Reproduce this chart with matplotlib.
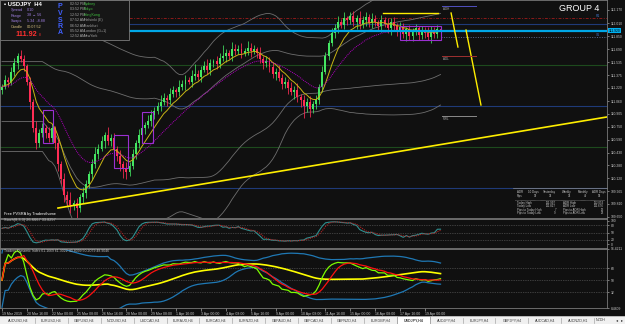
import numpy as np
import pandas as pd
import matplotlib
matplotlib.use("Agg")
import matplotlib.pyplot as plt
from matplotlib.patches import Rectangle

plt.rcParams['font.family'] = ['Liberation Sans', 'DejaVu Sans']

W, H = 625, 324
BG = '#101010'

# USDJPY H4 closes (bar 0 = 19 Mar 2019)
closes = [111.233, 111.320, 111.295, 111.420, 111.520, 111.608, 111.570,
          111.483, 111.295, 111.045, 110.733, 110.545, 110.670, 110.733,
          110.670, 110.608, 110.733, 110.545, 110.295, 110.108, 109.920,
          109.858, 109.795, 109.820, 109.758, 109.895, 109.945, 110.045,
          110.170, 110.295, 110.420, 110.483, 110.570, 110.645, 110.570,
          110.608, 110.483, 110.395, 110.295, 110.233, 110.195, 110.270,
          110.420, 110.545, 110.645, 110.733, 110.770, 110.820, 110.895,
          110.945, 110.995, 111.045, 111.095, 111.070, 111.145, 111.195,
          111.170, 111.233, 111.270, 111.320, 111.295, 111.370, 111.395,
          111.358, 111.445, 111.483, 111.445, 111.520, 111.545, 111.508,
          111.583, 111.608, 111.645, 111.608, 111.695, 111.670, 111.695,
          111.645, 111.670, 111.708, 111.670, 111.695, 111.645, 111.570,
          111.520, 111.545, 111.470, 111.395, 111.420, 111.345, 111.270,
          111.295, 111.220, 111.170, 111.195, 111.108, 111.070, 110.995,
          111.045, 110.970, 111.020, 111.070, 111.233, 111.420, 111.608,
          111.770, 111.895, 111.945, 112.020, 111.983, 112.070, 112.045,
          112.095, 112.020, 112.070, 111.995, 112.045, 112.083, 112.008,
          112.058, 112.020, 111.970, 112.045, 111.995, 111.945, 112.020,
          111.970, 111.920, 111.958, 111.883, 111.933, 111.858, 111.908,
          111.945, 111.870, 111.920, 111.895, 111.845, 111.920, 111.883,
          111.933, 111.920]
first_open = 111.200
# wicks in pips
wick_up = [4, 6, 3, 5, 7, 4, 8, 5, 3, 6, 4, 9, 5, 6, 4, 7, 5, 3, 6, 4, 8,
           5, 9, 4, 6, 3, 7, 5, 4, 6, 8, 5, 7, 4, 10, 5, 6, 3, 7, 4, 9, 5,
           6, 4, 8, 5, 3, 7, 6, 4, 5, 9, 6, 4, 7, 5, 3, 8, 5, 6, 4, 7, 12,
           5, 4, 6, 9, 5, 3, 7, 6, 14, 5, 4, 8, 6, 5, 7, 4, 9, 6, 5, 3, 8,
           4, 6, 5, 7, 4, 8, 5, 6, 3, 7, 5, 9, 4, 6, 5, 8, 4, 6, 3, 7, 5,
           4, 6, 5, 8, 4, 7, 3, 5, 6, 4, 9, 5, 6, 4, 7, 5, 3, 6, 4, 8, 5,
           6, 4, 7, 5, 3, 6, 4, 5, 3, 6, 4, 7, 5, 4, 6, 3]
wick_dn = [5, 3, 6, 4, 5, 7, 3, 6, 4, 8, 5, 7, 4, 5, 6, 5, 4, 7, 8, 6, 9,
           7, 10, 6, 12, 5, 8, 6, 4, 7, 5, 6, 3, 8, 5, 6, 4, 7, 9, 11, 8, 5,
           4, 6, 5, 3, 7, 4, 6, 5, 4, 6, 3, 7, 5, 4, 6, 5, 4, 7, 3, 6, 5,
           4, 6, 3, 5, 7, 4, 6, 5, 4, 7, 3, 6, 5, 4, 6, 3, 5, 7, 4, 6, 5,
           7, 4, 6, 5, 8, 4, 6, 5, 7, 4, 9, 6, 8, 14, 7, 10, 6, 5, 4, 6, 3,
           5, 4, 7, 6, 3, 5, 6, 4, 5, 8, 6, 4, 7, 5, 6, 4, 5, 7, 3, 6, 8,
           5, 7, 4, 6, 9, 5, 6, 4, 6, 5, 7, 4, 8, 5, 6, 4]

price_ticks = [112.170, 112.010, 111.850, 111.690, 111.535, 111.375, 111.220,
               111.060, 110.905, 110.750, 110.590, 110.430, 110.280, 110.120,
               109.965, 109.810, 109.650]
last_price = 111.920
whole_levels = [112.00, 111.00, 110.00]
half_levels = [111.50, 110.50]

date_ticks = list(range(0, 137, 8))
date_labels = ["19 Mar 2019", "20 Mar 16:00", "22 Mar 00:00", "25 Mar 08:00",
               "26 Mar 16:00", "28 Mar 00:00", "29 Mar 08:00", "1 Apr 16:00",
               "3 Apr 00:00", "4 Apr 08:00", "5 Apr 16:00", "9 Apr 00:00",
               "10 Apr 08:00", "11 Apr 16:00", "15 Apr 00:00", "16 Apr 08:00",
               "17 Apr 16:00", "19 Apr 00:00"]

# PVSRA boxes (bar from, bar to, top, bottom)
box_from = [13.2, 36.0, 45.0, 128.0]
box_to = [16.4, 40.5, 48.5, 141.0]
box_top = [110.952, 110.647, 110.928, 111.975]
box_bot = [110.550, 110.245, 110.550, 111.805]

tabs = ["AUDUSD,H4", "EURUSD,H4", "GBPUSD,H4", "NZDUSD,H4", "USDCAD,H4",
        "EURAUD,H4", "EURCAD,H4", "EURNZD,H4", "GBPAUD,H4", "GBPCAD,H4",
        "GBPNZD,H4", "EURGBP,H4", "USDJPY,H4", "AUDJPY,H4", "EURJPY,H4",
        "GBPJPY,H4", "AUDCAD,H4", "AUDNZD,H1"]
active_tab = "USDJPY,H4"

sessions = [("02:52 PM", "Sydney"), ("03:52 PM", "Tokyo"), ("12:52 PM", "HongKong"),
            ("07:52 AM", "Helsinki (E)"), ("06:52 AM", "Frankfurt"),
            ("05:52 AM", "London (G+1)"), ("12:52 AM", "NewYork")]

# ---- derived series ----
c = pd.Series(closes)
o = pd.Series([first_open] + closes[:-1])
hi = pd.concat([o, c], axis=1).max(axis=1) + pd.Series(wick_up) / 100
lo = pd.concat([o, c], axis=1).min(axis=1) - pd.Series(wick_dn) / 100
idx = np.arange(len(c))

ema_fast = c.ewm(span=8, adjust=False).mean()
ema_slow = c.ewm(span=21, adjust=False).mean()
bb_mid = c.rolling(50, min_periods=14).mean().bfill()
bb_sd = c.rolling(50, min_periods=14).std().bfill()
bands = [bb_mid + k * bb_sd for k in (-2, -1, 1, 2)]

hh = hi.rolling(8, min_periods=1).max()
ll = lo.rolling(8, min_periods=1).min()
st_k = 100 * (c - ll).rolling(3, min_periods=1).sum() / (hh - ll).rolling(3, min_periods=1).sum()
st_d = st_k.rolling(3, min_periods=1).mean()

delta = c.diff().fillna(0)
gain = delta.clip(lower=0).ewm(alpha=1 / 13, adjust=False).mean()
loss = (-delta.clip(upper=0)).ewm(alpha=1 / 13, adjust=False).mean()
rsi = (100 - 100 / (1 + gain / loss)).fillna(50)
tdi_green = rsi.rolling(2, min_periods=1).mean()
tdi_red = rsi.rolling(7, min_periods=1).mean()
tdi_mid = rsi.rolling(34, min_periods=1).mean()
tdi_sd = rsi.rolling(34, min_periods=3).std().bfill()
tdi_up = tdi_mid + 1.6185 * tdi_sd
tdi_lo = tdi_mid - 1.6185 * tdi_sd


def box(x0, y0, x1, y1):
    return [x0 / W, 1 - y1 / H, (x1 - x0) / W, (y1 - y0) / H]


fig = plt.figure(figsize=(W / 100, H / 100), dpi=100, facecolor=BG)
ax = fig.add_axes(box(0, 0, 607, 218))
ax_st = fig.add_axes(box(0, 219, 607, 248))
ax_tdi = fig.add_axes(box(0, 249, 607, 308))

XL = (-0.643, 194.53)
for a in (ax, ax_st, ax_tdi):
    a.set_facecolor(BG)
    a.set_xlim(*XL)
    for sp in a.spines.values():
        sp.set_color('#7a7a7a')
        sp.set_linewidth(0.6)
    a.yaxis.tick_right()
    a.tick_params(axis='y', colors='#c8c8c8', labelsize=2.4, length=1.5, width=0.4, pad=1)
    a.tick_params(axis='x', colors='#c8c8c8', labelsize=2.5, length=2, width=0.4, pad=1.2)

# ---- main price panel ----
ax.set_ylim(109.6365, 112.2918)
for lv in whole_levels:
    ax.axhline(lv, color='#1f3a78', lw=0.8, zorder=1)
for lv in half_levels:
    ax.axhline(lv, color='#1d4a1d', lw=0.8, zorder=1)
ax.axhline(112.073, color='#8b1a1a', lw=0.7, dashes=(3, 1.5, 1, 1.5), zorder=1)
ax.plot([141, XL[1]], [111.841, 111.841], color='#5a6a8a', lw=0.7, ls=(0, (1, 1.5)), zorder=1)

for band in bands:
    ax.plot(idx, band, color='#6e6e6e', lw=0.6, zorder=2)

for i in idx:
    col = '#44e662' if c[i] >= o[i] else '#ff2d55'
    ax.vlines(i, lo[i], hi[i], color=col, lw=0.55, zorder=3)
    body = max(abs(c[i] - o[i]), 0.006)
    ax.bar(i, body, bottom=min(o[i], c[i]), width=0.62, color=col, lw=0, zorder=3)

ax.plot(idx, ema_fast, color='#c8b414', lw=0.7, zorder=4)
ax.plot(idx, ema_slow, color='#b000c0', lw=0.7, ls=(0, (1, 1)), zorder=4)
for b0, b1, bt, bb_ in zip(box_from, box_to, box_top, box_bot):
    ax.add_patch(Rectangle((b0, bb_), b1 - b0, bt - bb_, fill=False, ec='#9a30d0', lw=0.8, zorder=4))

ax.axhline(111.914, color='#00a8e8', lw=1.6, zorder=5)

# yellow drawings
ax.plot([18.0, 194.5], [109.758, 110.867], color='#ffee00', lw=1.2, zorder=6)
ax.plot([122.5, 140.2], [112.133, 112.133], color='#ffee00', lw=1.0, zorder=6)
ax.plot([144.4, 146.6], [112.133, 111.719], color='#ffee00', lw=1.0, zorder=6)
ax.plot([149.2, 154.0], [111.926, 111.013], color='#ffee00', lw=1.0, zorder=6)

for name, lv, col in [("ADH", 112.219, '#5050c0'), ("ADL", 111.610, '#a03030'), ("PWL", 110.879, '#8a8a8a')]:
    ax.plot([141.5, 152.4], [lv, lv], color=col, lw=0.7, zorder=6)
    ax.text(141.8, lv - 0.012, name, color='#a8a8a8', fontsize=2.2, va='top', ha='left', zorder=6)
ax.text(192.3, 112.097, "R1", color='#4070c0', fontsize=2.4, ha='right', va='center', zorder=6)
ax.text(192.3, 111.865, "S1", color='#4070c0', fontsize=2.4, ha='right', va='center', zorder=6)
ax.text(192.2, 112.188, "GROUP 4", color='white', fontsize=6.5, ha='right', va='center', zorder=7)

ax.set_yticks(price_ticks)
ax.set_yticklabels([f"{p:.3f}" for p in price_ticks])
ax.set_xticks(date_ticks)
ax.tick_params(axis='x', labelbottom=False, length=0)
ax.annotate(f"{last_price:.3f}", xy=(1.0, last_price), xycoords=('axes fraction', 'data'),
            xytext=(1.2, 0), textcoords='offset points', va='center', ha='left',
            fontsize=2.4, color='black', annotation_clip=False, zorder=8,
            bbox=dict(boxstyle='square,pad=0.25', fc='#00b0f0', ec='none'))
ax.text(0.5, 109.69, "Free PVSRA by Tradersthome", color='white', fontsize=2.8, va='center', zorder=7)

# ---- stochastic ----
ax_st.set_ylim(-15, 107)
for lv in (80, 50, 20):
    ax_st.axhline(lv, color='#6a6a6a', lw=0.5, ls=(0, (1, 1.5)))
ax_st.plot(idx, st_k, color='#2f8f8f', lw=0.8)
ax_st.plot(idx, st_d, color='#b22222', lw=0.8, ls=(0, (1, 1)))
ax_st.set_yticks([100, 80, 50, 20, 0])
ax_st.set_xticks(date_ticks)
ax_st.tick_params(axis='x', labelbottom=False, length=0)
ax_st.text(0.5, 102, "Stoch(8,3,3) 26.6667 33.8297", color='#c0c0c0', fontsize=2.8, va='center')

# ---- TDI ----
ax_tdi.set_ylim(8.4809, 96.4211)
for lv in (68, 50, 32):
    ax_tdi.axhline(lv, color='#6a6a6a', lw=0.5, ls=(0, (1, 1.5)))
ax_tdi.plot(idx, tdi_up, color='#1f78b4', lw=0.9)
ax_tdi.plot(idx, tdi_lo, color='#1f78b4', lw=0.9)
ax_tdi.plot(idx, tdi_mid, color='#ffff00', lw=1.2)
ax_tdi.plot(idx, tdi_green, color='#7cfc00', lw=0.9)
ax_tdi.plot(idx, tdi_red, color='#ff1010', lw=0.9)
ax_tdi.set_yticks([96.4211, 68, 50, 32, 8.4809])
ax_tdi.set_yticklabels(["96.4211", "68", "50", "32", "8.4809"])
ax_tdi.set_xticks(date_ticks)
ax_tdi.set_xticklabels(date_labels)
for lbl in ax_tdi.get_xticklabels():
    lbl.set_ha('left')
ax_tdi.text(0.5, 93.5, "Traders Dynamic Index 61.1669 61.3022 40.8099 50.2079 48.9046",
            color='#c0c0c0', fontsize=2.5, va='center')

# ---- overlay: info panel, ADR table, tab bar ----
ov = fig.add_axes([0, 0, 1, 1])
ov.set_xlim(0, W)
ov.set_ylim(H, 0)
ov.axis('off')
ov.patch.set_alpha(0)

ov.add_patch(Rectangle((0, 0), 129, 40, fc='#161616', ec='#7a7a7a', lw=0.6))
ov.text(4, 4.2, "\u25aa USDJPY  H4", color='white', fontsize=4.2, fontweight='bold', va='center')
info_rows = [("Spread", "0.10", '#9f7fe0'), ("Range", "38 \u2192 56", '#9f7fe0'),
             ("Swaps", "5.34  -8.88", '#9f7fe0'), ("Candle", "00:07:52", '#d8c080')]
for k, (lab, val, col) in enumerate(info_rows):
    yy = 9.8 + k * 5.7
    ov.text(11, yy, lab, color=col, fontsize=2.7, va='center')
    ov.text(27, yy, val, color=col, fontsize=2.7, va='center')
ov.text(15, 35, "111.92", color='#ff3030', fontsize=5.2, fontweight='bold', va='center')
ov.text(38.5, 35.5, "8", color='#ff3030', fontsize=2.4, va='center')
for k, ch in enumerate("PVSRA"):
    ov.text(60, 7 + k * 6.5, ch, color='#4060ff', fontsize=5, fontweight='bold', va='center', ha='center')
for k, (t, city) in enumerate(sessions):
    yy = 4 + k * 5.4
    ov.text(70, yy, t, color='#a8a8a8', fontsize=2.6, va='center')
    ov.text(84, yy, city, color='#40c040' if k < 3 else '#a0a0a0', fontsize=2.6, va='center')

# ADR table
ov.plot([513, 607], [188, 188], color='#8a8a8a', lw=0.5)
head = ["ADR", "10 Days", "Yesterday", "Weekly", "Monthly", "ADR Days"]
pips = ["Pips", "39", "33", "33", "49", "53"]
hx = [517, 528, 543, 562, 578, 592]
for x_, h_, p_ in zip(hx, head, pips):
    ov.text(x_, 191.7, h_, color='#c8c8c8', fontsize=2.1, va='center')
    ov.text(x_ + (0 if p_ == "Pips" else 6), 195.7, p_, color='#c8c8c8', fontsize=2.1, va='center')
ov.plot([515, 605], [200, 200], color='#bbbbbb', lw=0.4, ls=(0, (1, 1)))
table = [("Today High", "111.997", "ADR High", "112.053"),
         ("Today Low", "111.827", "ADR Low", "111.676"),
         ("Pips to Today High", "7", "Pips to ADR High", "13"),
         ("Pips to Today Low", "9", "Pips to ADR Low", "25")]
for k, (a1, v1, a2, v2) in enumerate(table):
    yy = 203 + k * 3.4
    ov.text(517, yy, a1, color='#c8c8c8', fontsize=2.1, va='center')
    ov.text(556, yy, v1, color='#c8c8c8', fontsize=2.1, va='center', ha='right')
    ov.text(563, yy, a2, color='#c8c8c8', fontsize=2.1, va='center')
    ov.text(604, yy, v2, color='#c8c8c8', fontsize=2.1, va='center', ha='right')

# tab bar
ov.add_patch(Rectangle((0, 316), W, 8, fc='#f0f0f0', ec='none'))
ov.plot([0, W], [316, 316], color='#a0a0a0', lw=0.5)
tw = 32.9
for k, name in enumerate(tabs):
    x0 = 2 + k * tw
    if name == active_tab:
        ov.add_patch(Rectangle((x0, 315.5), tw, 8.5, fc='white', ec='#909090', lw=0.5))
    ov.plot([x0 + tw, x0 + tw], [317.5, 323], color='#a8a8a8', lw=0.5)
    ov.text(x0 + tw / 2, 320.2, name, color='#404040', fontsize=2.6, ha='center', va='center',
            fontweight='bold' if name == active_tab else 'normal')
ov.text(2 + len(tabs) * tw + 2, 320.2, "NZDH", color='#404040', fontsize=2.6, ha='left', va='center')
ov.text(617, 320.2, "\u25c2", color='#303030', fontsize=3, ha='center', va='center')
ov.text(622, 320.2, "\u25b8", color='#303030', fontsize=3, ha='center', va='center')

fig.savefig("out.png", dpi=100, facecolor=BG)
